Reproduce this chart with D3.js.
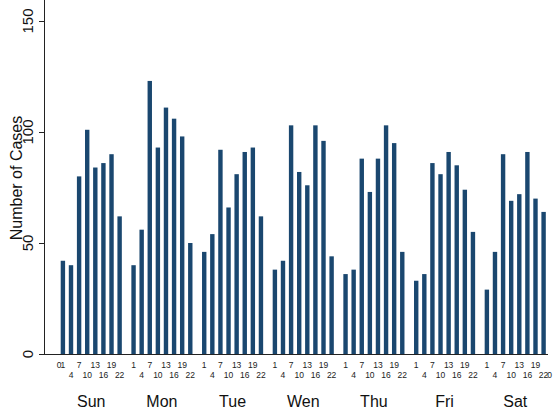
<!DOCTYPE html>
<html>
<head>
<meta charset="utf-8">
<script src="https://cdn.jsdelivr.net/npm/d3@7"></script>
<style>
  html, body { margin: 0; padding: 0; background: #fff; }
  svg { display: block; font-family: "Liberation Sans", Arial, Helvetica, sans-serif; }
</style>
</head>
<body>
<svg id="chart" width="560" height="409"></svg>
<script>
// Cases by day of week and hour of day
const days = ["Sun", "Mon", "Tue", "Wen", "Thu", "Fri", "Sat"];
const hours = [1, 4, 7, 10, 13, 16, 19, 22];

const sunCases = [42, 40, 80, 101, 84, 86, 90, 62];
const monCases = [40, 56, 123, 93, 111, 106, 98, 50];
const tueCases = [46, 54, 92, 66, 81, 91, 93, 62];
const wenCases = [38, 42, 103, 82, 76, 103, 96, 44];
const thuCases = [36, 38, 88, 73, 88, 103, 95, 46];
const friCases = [33, 36, 86, 81, 91, 85, 74, 55];
const satCases = [29, 46, 90, 69, 72, 91, 70, 64];

const yTicks = [0, 50, 100, 150];

const series = [sunCases, monCases, tueCases, wenCases, thuCases, friCases, satCases];
const rows = [];
days.forEach((d, i) => hours.forEach((h, j) => rows.push({ day: d, hour: h, value: series[i][j], idx: j })));

const svg = d3.select("#chart");
const barColor = "#1a476f";

const y = d3.scaleLinear().domain([0, 150]).range([354, 21]);
const xDay = d3.scaleBand().domain(days).range([60.7, 545.8]).paddingInner(0.135).paddingOuter(0);
const xHour = d3.scaleBand().domain(hours).range([0, xDay.bandwidth()]).paddingInner(0.457).paddingOuter(0);

// bars
svg.append("g").selectAll("rect").data(rows).join("rect")
  .attr("x", d => xDay(d.day) + xHour(d.hour))
  .attr("y", d => y(d.value))
  .attr("width", xHour.bandwidth())
  .attr("height", d => y(0) - y(d.value))
  .attr("fill", barColor);

// axes
const axisX = 44.5;
svg.append("line").attr("x1", axisX).attr("x2", axisX).attr("y1", 0).attr("y2", y(0))
  .attr("stroke", "#222").attr("stroke-width", 1);
svg.append("line").attr("x1", 39).attr("x2", 548).attr("y1", y(0) + 0.5).attr("y2", y(0) + 0.5)
  .attr("stroke", "#222").attr("stroke-width", 1);

const yt = svg.append("g");
yTicks.forEach(t => {
  yt.append("line").attr("x1", 39).attr("x2", axisX).attr("y1", y(t) + 0.5).attr("y2", y(t) + 0.5)
    .attr("stroke", "#222");
  yt.append("text")
    .attr("transform", `translate(33,${y(t)}) rotate(-90)`)
    .attr("text-anchor", "middle")
    .attr("font-size", 15)
    .attr("fill", "#111")
    .text(t);
});

svg.append("text")
  .attr("transform", `translate(22,178) rotate(-90)`)
  .attr("text-anchor", "middle")
  .attr("font-size", 16)
  .attr("fill", "#111")
  .text("Number of Cases");

// hour labels, staggered in two rows
const hl = svg.append("g").attr("font-size", 8.5).attr("fill", "#222").attr("text-anchor", "middle");
rows.forEach(d => {
  const cx = xDay(d.day) + xHour(d.hour) + xHour.bandwidth() / 2;
  hl.append("text")
    .attr("x", cx)
    .attr("y", d.idx % 2 === 0 ? 368 : 377.5)
    .text(d.hour);
});
// hour 0 marks at both ends of the week
hl.append("text").attr("x", 59).attr("y", 368).text("0");
hl.append("text").attr("x", 549.5).attr("y", 377.5).text("0");

// day labels
svg.append("g").selectAll("text").data(days).join("text")
  .attr("x", d => xDay(d) + xDay.bandwidth() / 2)
  .attr("y", 407)
  .attr("text-anchor", "middle")
  .attr("font-size", 16)
  .attr("fill", "#111")
  .text(d => d);
</script>
</body>
</html>
